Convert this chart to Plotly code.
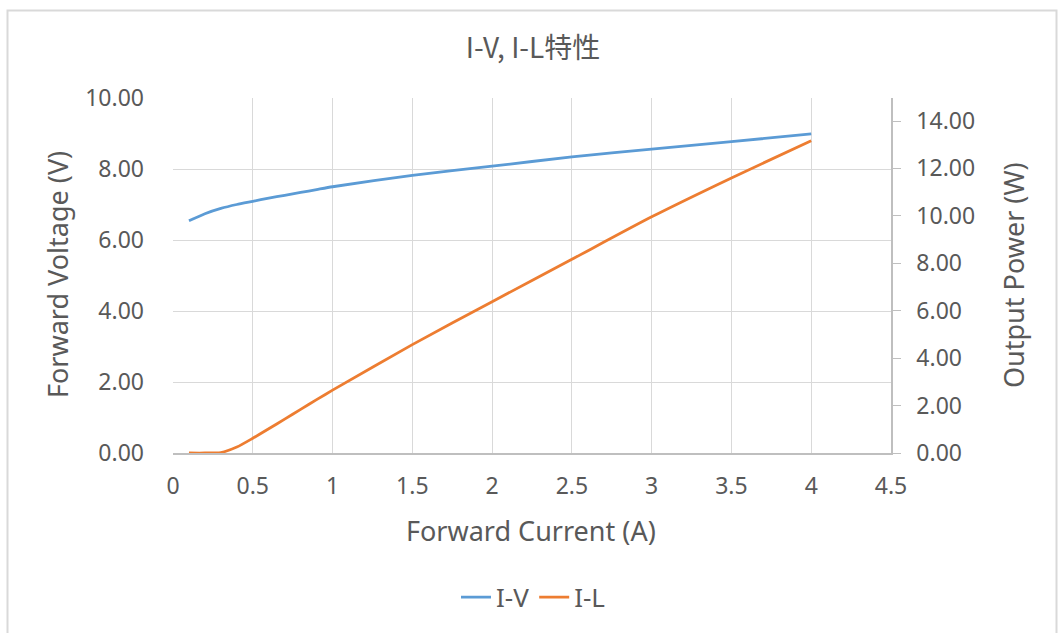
import plotly.graph_objects as go

current = [0.1, 0.2, 0.3, 0.4, 0.5, 0.6, 0.7, 0.8, 0.9, 1.0, 1.5, 2.0, 2.5, 3.0, 3.5, 4.0]
voltage = [6.54, 6.74, 6.89, 7.00, 7.09, 7.18, 7.26, 7.34, 7.42, 7.50, 7.82, 8.08, 8.34, 8.56, 8.77, 8.99]
power = [0.0, 0.0, 0.02, 0.25, 0.62, 1.02, 1.43, 1.84, 2.25, 2.65, 4.57, 6.38, 8.17, 9.96, 11.60, 13.17]

x_ticks = [0, 0.5, 1, 1.5, 2, 2.5, 3, 3.5, 4, 4.5]
x_tick_text = ["0", "0.5", "1", "1.5", "2", "2.5", "3", "3.5", "4", "4.5"]
v_ticks = [0, 2, 4, 6, 8, 10]
p_ticks = [0, 2, 4, 6, 8, 10, 12, 14]

W, H = 1058, 633
L, R, T, B = 173, 891, 98, 455
FONT = "Noto Sans, Open Sans, sans-serif"
GRAY = "#595959"


def px(xp):
    return (xp - L) / (R - L)


def py(yp):
    return (B - yp) / (B - T)


fig = go.Figure()
fig.add_trace(go.Scatter(x=current, y=voltage, name="I-V", mode="lines",
                         line=dict(color="#5b9bd5", width=2.8, shape="spline", smoothing=0.6)))
fig.add_trace(go.Scatter(x=current, y=power, name="I-L", mode="lines", yaxis="y2",
                         line=dict(color="#ed7d31", width=2.8, shape="spline", smoothing=0.6)))

fig.update_layout(
    width=W, height=H,
    margin=dict(l=L, r=W - R, t=T, b=H - B),
    paper_bgcolor="white", plot_bgcolor="white",
    font=dict(family=FONT, color=GRAY),
    title=dict(text="I-V, I-L特性", x=px(533), xref="paper", xanchor="center",
               y=1 - 48 / H, yref="container", yanchor="middle",
               font=dict(family="Noto Sans CJK SC, Noto Sans, sans-serif", size=28, color=GRAY)),
    xaxis=dict(range=[0, 4.5], tickvals=x_ticks, ticktext=x_tick_text,
               showgrid=True, gridcolor="#d9d9d9", gridwidth=1,
               showline=True, linecolor="#bfbfbf", linewidth=1.5,
               zeroline=False, ticks="", ticklabelstandoff=12,
               tickfont=dict(size=23, color=GRAY)),
    yaxis=dict(range=[0, 10], tickvals=v_ticks, tickformat=".2f",
               showgrid=True, gridcolor="#d9d9d9", gridwidth=1,
               showline=False, zeroline=False, ticks="", ticklabelstandoff=28,
               tickfont=dict(size=23, color=GRAY)),
    yaxis2=dict(range=[0, 14.97], tickvals=p_ticks, tickformat=".2f",
                overlaying="y", side="right", showgrid=False, zeroline=False,
                showline=True, linecolor="#bfbfbf", linewidth=1.5,
                ticks="outside", ticklen=8, tickcolor="#bfbfbf", ticklabelstandoff=11,
                tickfont=dict(size=23, color=GRAY)),
    legend=dict(orientation="h", x=px(533), xanchor="center", y=py(600), yanchor="middle",
                font=dict(size=26, color=GRAY), tracegroupgap=0),
    showlegend=True,
    annotations=[
        dict(text="Forward Current (A)", x=px(531), y=py(533), xref="paper", yref="paper",
             showarrow=False, xanchor="center", yanchor="middle", font=dict(size=27, color=GRAY)),
        dict(text="Forward Voltage (V)", x=px(57), y=py(276), xref="paper", yref="paper",
             showarrow=False, xanchor="center", yanchor="middle", textangle=-90,
             font=dict(size=27, color=GRAY)),
        dict(text="Output Power (W)", x=px(1013), y=py(276), xref="paper", yref="paper",
             showarrow=False, xanchor="center", yanchor="middle", textangle=-90,
             font=dict(size=27, color=GRAY)),
    ],
    shapes=[dict(type="rect", xref="paper", yref="paper",
                 x0=px(7.5), x1=px(1056.5), y0=py(660), y1=py(10),
                 line=dict(color="#d9d9d9", width=2), fillcolor="rgba(0,0,0,0)", layer="below")],
)

fig.write_html("out.html", config={"displayModeBar": False},
               post_script="document.body.style.margin='0';")
